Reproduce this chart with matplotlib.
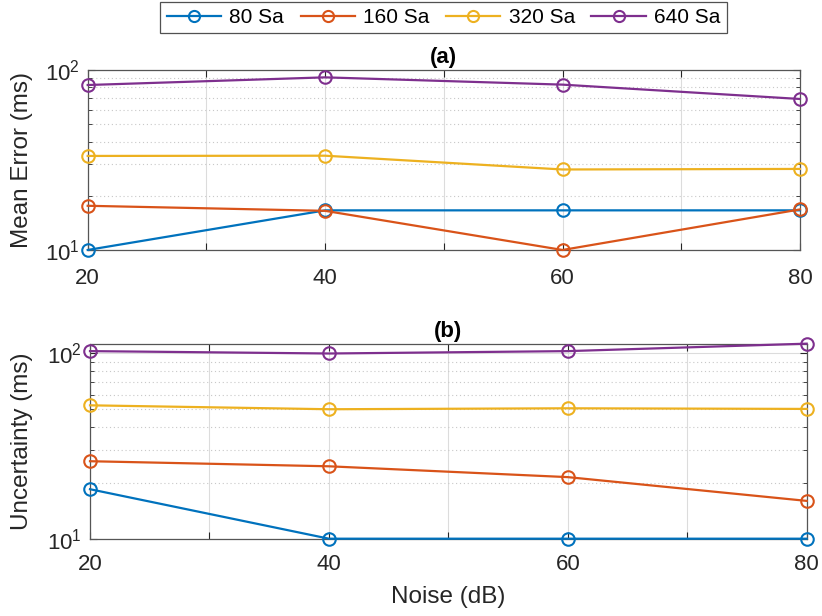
import matplotlib
matplotlib.use("Agg")
import matplotlib.pyplot as plt
from matplotlib.ticker import LogLocator, FixedLocator, FixedFormatter, NullFormatter

plt.rcParams['font.family'] = ['Liberation Sans', 'DejaVu Sans']
plt.rcParams['mathtext.fontset'] = 'custom'
plt.rcParams['mathtext.rm'] = 'Liberation Sans'
plt.rcParams['mathtext.it'] = 'Liberation Sans:italic'
plt.rcParams['mathtext.bf'] = 'Liberation Sans:bold'

# Data
noise_db = [20, 40, 60, 80]
series_names = ['80 Sa', '160 Sa', '320 Sa', '640 Sa']

mean_err_80 = [10.0, 16.6, 16.6, 16.6]
mean_err_160 = [17.6, 16.5, 10.0, 16.8]
mean_err_320 = [33.3, 33.4, 28.0, 28.2]
mean_err_640 = [82.5, 91.0, 82.9, 69.0]

uncert_80 = [18.5, 10.0, 10.0, 10.0]
uncert_160 = [26.2, 24.6, 21.5, 16.0]
uncert_320 = [52.5, 50.0, 50.6, 50.2]
uncert_640 = [103.0, 100.0, 103.0, 113.0]

x_ticks = [20, 30, 40, 50, 60, 70, 80]
x_tick_labels = ['20', '', '40', '', '60', '', '80']

colors = ['#0072BD', '#D95319', '#EDB120', '#7E2F8E']
axis_color = '#262626'

fig = plt.figure(figsize=(8.22, 6.16), dpi=100)
ax_a = fig.add_axes([0.1067, 0.5942, 0.8665, 0.2922])
ax_b = fig.add_axes([0.1095, 0.1255, 0.8719, 0.3166])


def style_axes(ax, ylim, xpad):
    ax.set_yscale('log')
    ax.set_xlim(20, 80)
    ax.set_ylim(*ylim)
    ax.xaxis.set_major_locator(FixedLocator(x_ticks))
    ax.xaxis.set_major_formatter(FixedFormatter(x_tick_labels))
    ax.yaxis.set_major_locator(LogLocator(base=10, numticks=10))
    ax.yaxis.set_minor_locator(LogLocator(base=10, subs=range(2, 10), numticks=10))
    ax.yaxis.set_minor_formatter(NullFormatter())
    ax.grid(True, which='major', axis='both', color='#dcdcdc', linewidth=0.8)
    ax.grid(True, which='minor', axis='y', color='#c8c8c8', linewidth=0.8,
            linestyle=(0, (1, 2.5)))
    ax.set_axisbelow(True)
    ax.tick_params(which='both', direction='in', colors=axis_color,
                   top=True, right=True, labelsize=16)
    ax.tick_params(which='major', length=5, width=0.8)
    ax.tick_params(which='minor', length=3, width=0.6)
    ax.tick_params(axis='x', pad=xpad)
    ax.tick_params(axis='y', pad=6)
    for sp in ax.spines.values():
        sp.set_color('#555555')
        sp.set_linewidth(0.9)


style_axes(ax_a, (10, 100), 13)
style_axes(ax_b, (10, 113), 11)

mean_err = [mean_err_80, mean_err_160, mean_err_320, mean_err_640]
uncert = [uncert_80, uncert_160, uncert_320, uncert_640]

handles = []
for name, c, ya, yb in zip(series_names, colors, mean_err, uncert):
    h, = ax_a.plot(noise_db, ya, color=c, linewidth=1.6, marker='o',
                   markersize=9, markerfacecolor='none', markeredgewidth=1.5,
                   label=name, clip_on=False, zorder=3)
    ax_b.plot(noise_db, yb, color=c, linewidth=1.6, marker='o',
              markersize=9, markerfacecolor='none', markeredgewidth=1.5,
              clip_on=False, zorder=3)
    handles.append(h)

ax_a.set_title('(a)', fontsize=16, fontweight='bold', pad=5, color='black')
ax_b.set_title('(b)', fontsize=16, fontweight='bold', pad=5, color='black')

ax_a.set_ylabel('Mean Error (ms)', fontsize=17.5, color=axis_color)
ax_a.yaxis.set_label_coords(-0.077, 0.5)
ax_b.set_ylabel('Uncertainty (ms)', fontsize=17.5, color=axis_color)
ax_b.yaxis.set_label_coords(-0.0795, 0.5)
ax_b.set_xlabel('Noise (dB)', fontsize=17.5, color=axis_color)
ax_b.xaxis.set_label_coords(0.5, -0.245)

leg = fig.legend(handles=handles, loc='center', bbox_to_anchor=(0.5395, 0.9716),
                 ncol=4, fontsize=15, frameon=True, fancybox=False,
                 edgecolor='#262626', handlelength=2.6, columnspacing=0.8,
                 handletextpad=0.4, borderpad=0.3, borderaxespad=0)
leg.get_frame().set_linewidth(0.9)
for h in leg.legend_handles:
    h.set_markersize(8)

fig.savefig('out.png', dpi=100)
